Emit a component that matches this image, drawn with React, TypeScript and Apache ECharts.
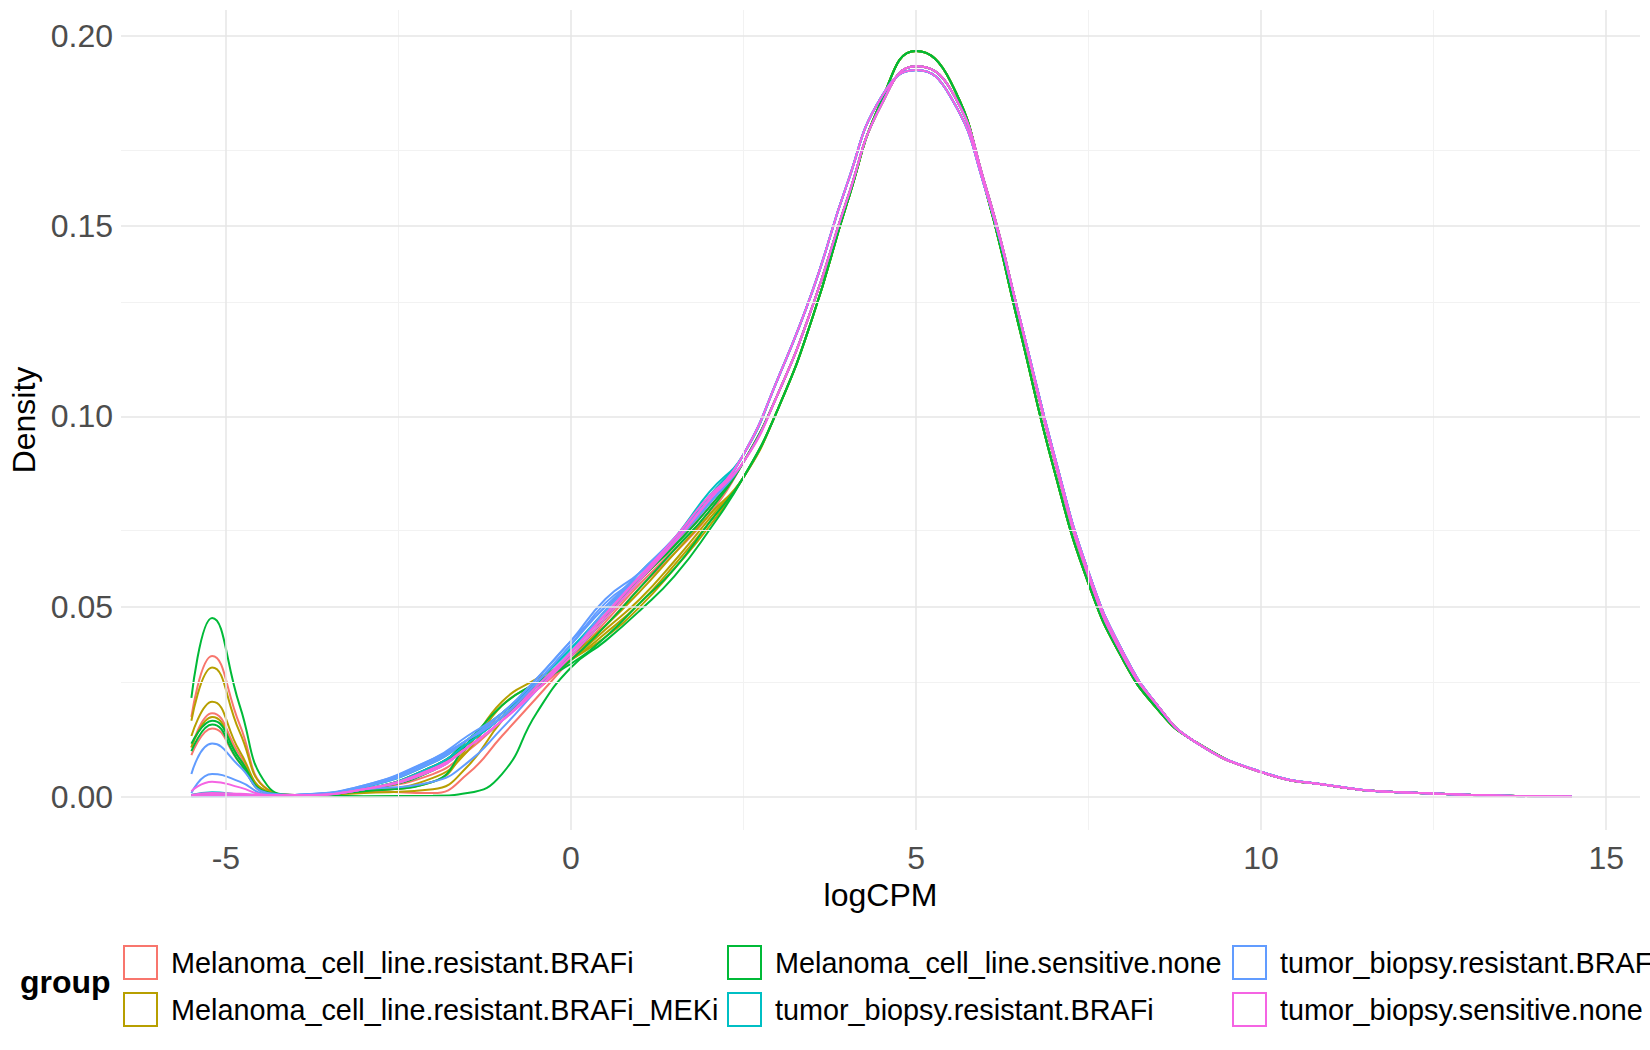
import React, { useEffect, useRef } from "react";
import * as echarts from "echarts";

const groups = [
  "Melanoma_cell_line.resistant.BRAFi",
  "Melanoma_cell_line.resistant.BRAFi_MEKi",
  "Melanoma_cell_line.sensitive.none",
  "tumor_biopsy.resistant.BRAFi",
  "tumor_biopsy.resistant.BRAF",
  "tumor_biopsy.sensitive.none",
];
const colors = ["#F8766D", "#B79F00", "#00BA38", "#00BFC4", "#619CFF", "#F564E3"];

const leftX = [-5.5, -5.2, -4.8, -4.4, -4, -3, -2, -1.5, -1, -0.5, 0, 0.5, 1, 1.5, 2];
const tailX = [2.5, 3, 3.5, 4, 4.5, 5, 5.5, 6, 6.5, 7, 7.5, 8, 8.5, 9, 10, 11, 12, 14.5];

const tailA = [0.088, 0.106, 0.129, 0.157, 0.182, 0.192, 0.186, 0.161, 0.126, 0.089, 0.058, 0.037, 0.024, 0.015, 0.0065, 0.003, 0.0012, 0.0001];
const tailB = [0.084, 0.102, 0.126, 0.156, 0.183, 0.196, 0.188, 0.160, 0.123, 0.086, 0.056, 0.036, 0.023, 0.015, 0.0065, 0.003, 0.0012, 0.0001];
const tailC = [0.090, 0.110, 0.133, 0.161, 0.184, 0.191, 0.184, 0.160, 0.126, 0.090, 0.059, 0.038, 0.024, 0.015, 0.0066, 0.003, 0.0012, 0.0001];

// [groupIndex, left values, tail]
const samples: [number, number[], number[]][] = [
  [0, [0.021, 0.037, 0.019, 0.002, 0.0005, 0.002, 0.006, 0.012, 0.020, 0.028, 0.036, 0.046, 0.056, 0.065, 0.075], tailA],
  [0, [0.013, 0.022, 0.011, 0.0013, 0.0005, 0.0015, 0.001, 0.006, 0.016, 0.026, 0.036, 0.045, 0.055, 0.064, 0.074], tailA],
  [0, [0.011, 0.018, 0.009, 0.001, 0.0005, 0.002, 0.008, 0.014, 0.021, 0.028, 0.037, 0.047, 0.057, 0.066, 0.076], tailA],
  [0, [0.0005, 0.0005, 0.0005, 0.0005, 0.0005, 0.002, 0.008, 0.014, 0.021, 0.029, 0.037, 0.047, 0.057, 0.066, 0.077], tailA],
  [1, [0.020, 0.034, 0.017, 0.002, 0.0005, 0.0015, 0.005, 0.012, 0.024, 0.030, 0.036, 0.042, 0.050, 0.060, 0.071], tailB],
  [1, [0.016, 0.025, 0.012, 0.0015, 0.0005, 0.0015, 0.004, 0.013, 0.025, 0.031, 0.036, 0.043, 0.051, 0.061, 0.072], tailB],
  [1, [0.013, 0.021, 0.010, 0.0013, 0.0005, 0.001, 0.002, 0.008, 0.020, 0.029, 0.036, 0.044, 0.052, 0.062, 0.073], tailB],
  [1, [0.0005, 0.0005, 0.0005, 0.0005, 0.0005, 0.002, 0.007, 0.014, 0.022, 0.029, 0.037, 0.045, 0.054, 0.064, 0.074], tailB],
  [2, [0.026, 0.047, 0.024, 0.003, 0.0005, 0.0002, 0.0003, 0.001, 0.006, 0.022, 0.034, 0.041, 0.049, 0.058, 0.070], tailB],
  [2, [0.014, 0.020, 0.010, 0.0012, 0.0005, 0.0015, 0.004, 0.014, 0.024, 0.030, 0.035, 0.042, 0.051, 0.060, 0.072], tailB],
  [2, [0.012, 0.019, 0.009, 0.0011, 0.0005, 0.002, 0.007, 0.015, 0.022, 0.029, 0.036, 0.045, 0.055, 0.065, 0.075], tailA],
  [2, [0.0005, 0.0008, 0.0005, 0.0005, 0.0005, 0.002, 0.008, 0.014, 0.021, 0.029, 0.037, 0.047, 0.057, 0.066, 0.076], tailA],
  [3, [0.0005, 0.0012, 0.0007, 0.0005, 0.0005, 0.002, 0.007, 0.013, 0.020, 0.029, 0.038, 0.048, 0.058, 0.067, 0.078], tailC],
  [3, [0.0003, 0.0005, 0.0004, 0.0003, 0.0004, 0.002, 0.008, 0.014, 0.021, 0.030, 0.039, 0.049, 0.059, 0.068, 0.079], tailC],
  [3, [0.0002, 0.0003, 0.0003, 0.0002, 0.0004, 0.0025, 0.009, 0.015, 0.022, 0.030, 0.039, 0.048, 0.058, 0.068, 0.080], tailC],
  [4, [0.006, 0.014, 0.008, 0.001, 0.0005, 0.002, 0.004, 0.009, 0.018, 0.028, 0.038, 0.049, 0.058, 0.067, 0.077], tailC],
  [4, [0.001, 0.006, 0.004, 0.0007, 0.0005, 0.003, 0.010, 0.015, 0.021, 0.030, 0.040, 0.051, 0.058, 0.067, 0.078], tailC],
  [4, [0.0003, 0.0005, 0.0004, 0.0003, 0.0005, 0.003, 0.010, 0.016, 0.022, 0.031, 0.041, 0.052, 0.059, 0.068, 0.078], tailC],
  [4, [0.0002, 0.0003, 0.0003, 0.0003, 0.0005, 0.0028, 0.0095, 0.015, 0.021, 0.030, 0.040, 0.050, 0.058, 0.067, 0.077], tailA],
  [4, [0.0002, 0.0002, 0.0002, 0.0002, 0.0005, 0.0026, 0.009, 0.015, 0.022, 0.031, 0.041, 0.050, 0.059, 0.068, 0.078], tailC],
  [5, [0.0015, 0.004, 0.0025, 0.0005, 0.0005, 0.002, 0.007, 0.013, 0.020, 0.028, 0.037, 0.047, 0.057, 0.067, 0.078], tailA],
  [5, [0.0005, 0.001, 0.0008, 0.0004, 0.0004, 0.002, 0.0075, 0.013, 0.020, 0.028, 0.038, 0.048, 0.058, 0.067, 0.078], tailC],
  [5, [0.0003, 0.0005, 0.0004, 0.0003, 0.0004, 0.002, 0.007, 0.013, 0.020, 0.029, 0.038, 0.048, 0.058, 0.068, 0.079], tailA],
];

const majorX = [-5, 0, 5, 10, 15];
const minorX = [-2.5, 2.5, 7.5, 12.5];
const majorY = [0, 0.05, 0.1, 0.15, 0.2];
const minorY = [0.025, 0.075, 0.125, 0.175];

const FONT = "Liberation Sans, Arial, sans-serif";

export default function App() {
  const ref = useRef<HTMLDivElement>(null);
  useEffect(() => {
    document.body.style.margin = "0";
    const chart = echarts.init(ref.current!, null, { renderer: "svg" });
    const xs = leftX.concat(tailX);
    const series: any[] = samples.map(([g, l, t]) => ({
      type: "line",
      name: groups[g],
      smooth: 0.5,
      showSymbol: false,
      symbol: "none",
      silent: true,
      z: 3,
      lineStyle: { color: colors[g], width: 2 },
      data: xs.map((x, i) => [x, l.concat(t)[i]]),
    }));
    series.unshift({
      type: "line",
      data: [],
      silent: true,
      z: 1,
      markLine: {
        silent: true,
        symbol: "none",
        label: { show: false },
        animation: false,
        data: [
          ...minorX.map((v) => ({ xAxis: v, lineStyle: { color: "#f2f2f2", width: 1, type: "solid" } })),
          ...minorY.map((v) => ({ yAxis: v, lineStyle: { color: "#f2f2f2", width: 1, type: "solid" } })),
          ...majorX.map((v) => ({ xAxis: v, lineStyle: { color: "#e6e6e6", width: 1.5, type: "solid" } })),
          ...majorY.map((v) => ({ yAxis: v, lineStyle: { color: "#e6e6e6", width: 1.5, type: "solid" } })),
        ],
      },
    });

    const graphics: any[] = [
      { type: "text", left: 20, top: 966, style: { text: "group", font: `bold 32px ${FONT}`, fill: "#000" } },
    ];
    const cols = [124, 728, 1233];
    const rows = [946, 993];
    const order = [0, 2, 4, 1, 3, 5];
    order.forEach((g, k) => {
      const c = cols[k % 3], r = rows[Math.floor(k / 3)];
      graphics.push({ type: "rect", shape: { x: c, y: r, width: 33, height: 33 }, style: { fill: "#fff", stroke: colors[g], lineWidth: 2 } });
      graphics.push({ type: "text", x: c + 47, y: r + 17, style: { text: groups[g], font: `28.8px ${FONT}`, fill: "#000", verticalAlign: "middle" } });
    });

    chart.setOption({
      animation: false,
      backgroundColor: "#fff",
      grid: { left: 121, right: 10, top: 10, bottom: 220, containLabel: false, outerBoundsMode: "none" },
      xAxis: {
        type: "value",
        min: -6.52,
        max: 15.49,
        name: "logCPM",
        nameLocation: "middle",
        nameGap: 45,
        nameTextStyle: { fontSize: 32, color: "#000", fontFamily: FONT },
        axisLine: { show: false },
        axisTick: { show: false },
        splitLine: { show: false },
        axisLabel: { customValues: majorX, fontSize: 32, color: "#4d4d4d", margin: 12, fontFamily: FONT },
      },
      yAxis: {
        type: "value",
        min: -0.0087,
        max: 0.2068,
        name: "Density",
        nameLocation: "middle",
        nameGap: 81,
        nameTextStyle: { fontSize: 32, color: "#000", fontFamily: FONT },
        axisLine: { show: false },
        axisTick: { show: false },
        splitLine: { show: false },
        axisLabel: { customValues: majorY, fontSize: 32, color: "#4d4d4d", margin: 8, fontFamily: FONT, formatter: (v: number) => v.toFixed(2) },
      },
      graphic: graphics,
      series,
    });
    return () => chart.dispose();
  }, []);
  return <div ref={ref} style={{ width: 1650, height: 1050 }} />;
}
